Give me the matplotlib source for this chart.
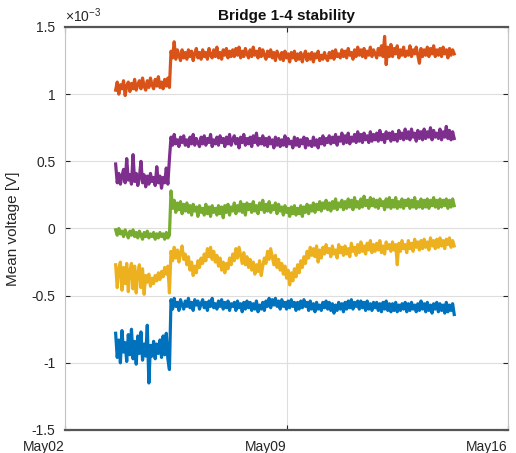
import numpy as np
import matplotlib
matplotlib.use('Agg')
import matplotlib.pyplot as plt
import matplotlib.dates as mdates
import matplotlib.transforms as mtransforms

matplotlib.rcParams['font.family'] = ['Liberation Sans', 'DejaVu Sans']
matplotlib.rcParams['axes.unicode_minus'] = False
matplotlib.rcParams['mathtext.default'] = 'regular'

# readings every 72 min; the logger was restarted on May 5
t_before = np.datetime64('2017-05-03T14:24')
t_after = np.datetime64('2017-05-05T08:24')
t_step_min = 72

# mean voltage in units of 1e-3 V
b1_before = [  # blue
    -0.78, -0.96, -0.83, -1.00, -0.76, -0.92, -0.85, -0.99, -0.79, -0.94,
    -0.75, -0.97, -0.84, -1.01, -0.80, -0.93, -0.77, -0.98, -0.86, -0.95,
    -0.72, -1.15, -0.87, -0.95, -0.84, -0.97, -0.86, -0.93, -0.83, -0.96,
    -0.80, -0.94, -0.78, -0.97, -1.05,
]
b1_after = [
    -0.53, -0.60, -0.52, -0.58, -0.55, -0.61, -0.53, -0.57, -0.60, -0.54,
    -0.58, -0.52, -0.59, -0.55, -0.61, -0.53, -0.57, -0.54, -0.60, -0.56,
    -0.53, -0.59, -0.55, -0.61, -0.54, -0.58, -0.52, -0.59, -0.56, -0.60,
    -0.54, -0.58, -0.53, -0.60, -0.55, -0.59, -0.54, -0.61, -0.56, -0.58,
    -0.55, -0.61, -0.54, -0.59, -0.56, -0.62, -0.55, -0.60, -0.54, -0.59,
    -0.55, -0.61, -0.56, -0.60, -0.54, -0.62, -0.57, -0.60, -0.55, -0.61,
    -0.54, -0.58, -0.52, -0.59, -0.53, -0.57, -0.52, -0.58, -0.54, -0.60,
    -0.53, -0.58, -0.55, -0.60, -0.54, -0.59, -0.53, -0.58, -0.55, -0.61,
    -0.55, -0.60, -0.54, -0.59, -0.53, -0.58, -0.55, -0.61, -0.54, -0.60,
    -0.56, -0.62, -0.55, -0.60, -0.57, -0.61, -0.55, -0.59, -0.54, -0.60,
    -0.55, -0.61, -0.56, -0.63, -0.57, -0.61, -0.55, -0.60, -0.56, -0.62,
    -0.55, -0.60, -0.54, -0.59, -0.53, -0.60, -0.55, -0.58, -0.54, -0.60,
    -0.54, -0.59, -0.55, -0.61, -0.54, -0.60, -0.56, -0.61, -0.55, -0.59,
    -0.55, -0.61, -0.56, -0.62, -0.55, -0.60, -0.54, -0.61, -0.56, -0.62,
    -0.56, -0.61, -0.55, -0.62, -0.57, -0.61, -0.56, -0.60, -0.55, -0.62,
    -0.56, -0.61, -0.55, -0.60, -0.57, -0.62, -0.56, -0.61, -0.54, -0.60,
    -0.56, -0.62, -0.55, -0.61, -0.57, -0.63, -0.56, -0.60, -0.55, -0.62,
    -0.56, -0.61, -0.57, -0.63, -0.55, -0.62, -0.57, -0.61, -0.56, -0.64,
]
b2_before = [  # orange
    1.03, 1.09, 1.00, 1.07, 1.04, 1.10, 0.99, 1.06, 1.09, 1.02,
    1.08, 1.04, 1.11, 1.03, 1.07, 1.10, 1.04, 1.12, 1.06, 1.03,
    1.10, 1.05, 1.12, 1.07, 1.04, 1.11, 1.06, 1.13, 1.05, 1.09,
    1.04, 1.11, 1.06, 1.12, 1.05,
]
b2_after = [
    1.32, 1.27, 1.39, 1.26, 1.33, 1.29, 1.25, 1.33, 1.27, 1.31,
    1.26, 1.33, 1.28, 1.32, 1.25, 1.30, 1.34, 1.27, 1.31, 1.26,
    1.33, 1.28, 1.31, 1.26, 1.34, 1.29, 1.27, 1.33, 1.28, 1.35,
    1.27, 1.31, 1.26, 1.33, 1.29, 1.34, 1.27, 1.32, 1.28, 1.33,
    1.28, 1.34, 1.29, 1.35, 1.27, 1.32, 1.28, 1.34, 1.30, 1.27,
    1.33, 1.28, 1.35, 1.29, 1.32, 1.27, 1.34, 1.28, 1.33, 1.29,
    1.26, 1.32, 1.28, 1.33, 1.27, 1.31, 1.25, 1.32, 1.29, 1.26,
    1.31, 1.25, 1.32, 1.27, 1.30, 1.24, 1.31, 1.27, 1.32, 1.25,
    1.30, 1.26, 1.31, 1.24, 1.29, 1.32, 1.25, 1.30, 1.26, 1.31,
    1.24, 1.30, 1.27, 1.32, 1.25, 1.29, 1.26, 1.31, 1.27, 1.25,
    1.31, 1.27, 1.32, 1.26, 1.33, 1.28, 1.30, 1.27, 1.33, 1.28,
    1.32, 1.27, 1.34, 1.29, 1.31, 1.26, 1.33, 1.28, 1.35, 1.29,
    1.33, 1.28, 1.34, 1.27, 1.32, 1.29, 1.35, 1.28, 1.33, 1.30,
    1.27, 1.34, 1.29, 1.36, 1.28, 1.43, 1.22, 1.35, 1.28, 1.37,
    1.28, 1.34, 1.30, 1.36, 1.27, 1.33, 1.29, 1.35, 1.28, 1.32,
    1.29, 1.36, 1.28, 1.33, 1.30, 1.35, 1.29, 1.23, 1.34, 1.28,
    1.33, 1.29, 1.35, 1.28, 1.34, 1.30, 1.36, 1.28, 1.33, 1.29,
    1.34, 1.28, 1.35, 1.30, 1.33, 1.27, 1.34, 1.29, 1.33, 1.30,
]
b3_before = [  # yellow
    -0.27, -0.44, -0.30, -0.25, -0.46, -0.29, -0.41, -0.26, -0.47, -0.31,
    -0.26, -0.45, -0.28, -0.48, -0.33, -0.27, -0.44, -0.30, -0.49, -0.35,
    -0.40, -0.34, -0.43, -0.37, -0.41, -0.35, -0.39, -0.33, -0.38, -0.32,
    -0.36, -0.29, -0.34, -0.28, -0.48,
]
b3_after = [
    -0.17, -0.24, -0.14, -0.22, -0.16, -0.25, -0.18, -0.13, -0.23, -0.19,
    -0.27, -0.21, -0.31, -0.25, -0.35, -0.28, -0.33, -0.24, -0.29, -0.22,
    -0.26, -0.19, -0.24, -0.15, -0.21, -0.14, -0.23, -0.17, -0.25, -0.20,
    -0.28, -0.22, -0.31, -0.25, -0.33, -0.26, -0.30, -0.22, -0.27, -0.19,
    -0.24, -0.15, -0.22, -0.14, -0.20, -0.26, -0.18, -0.27, -0.21, -0.29,
    -0.23, -0.31, -0.25, -0.34, -0.27, -0.32, -0.24, -0.35, -0.28, -0.22,
    -0.26, -0.17, -0.23, -0.15, -0.21, -0.27, -0.20, -0.29, -0.23, -0.31,
    -0.26, -0.34, -0.28, -0.37, -0.31, -0.42, -0.33, -0.39, -0.30, -0.36,
    -0.27, -0.33, -0.24, -0.29, -0.21, -0.26, -0.17, -0.22, -0.14, -0.20,
    -0.15, -0.21, -0.13, -0.25, -0.16, -0.22, -0.14, -0.19, -0.12, -0.18,
    -0.15, -0.21, -0.13, -0.19, -0.16, -0.22, -0.12, -0.18, -0.14, -0.20,
    -0.13, -0.19, -0.15, -0.21, -0.11, -0.17, -0.14, -0.20, -0.12, -0.18,
    -0.10, -0.17, -0.13, -0.19, -0.11, -0.16, -0.09, -0.18, -0.12, -0.17,
    -0.11, -0.16, -0.09, -0.18, -0.13, -0.19, -0.10, -0.15, -0.12, -0.17,
    -0.10, -0.16, -0.12, -0.27, -0.11, -0.17, -0.09, -0.15, -0.12, -0.18,
    -0.09, -0.15, -0.11, -0.17, -0.08, -0.14, -0.10, -0.16, -0.09, -0.15,
    -0.08, -0.14, -0.10, -0.16, -0.07, -0.13, -0.09, -0.15, -0.08, -0.14,
    -0.07, -0.13, -0.09, -0.15, -0.08, -0.12, -0.07, -0.14, -0.09, -0.13,
]
b4_before = [  # purple
    0.48, 0.34, 0.41, 0.33, 0.39, 0.44, 0.34, 0.52, 0.36, 0.40,
    0.33, 0.55, 0.35, 0.41, 0.32, 0.38, 0.50, 0.34, 0.40, 0.31,
    0.39, 0.33, 0.41, 0.35, 0.38, 0.32, 0.46, 0.34, 0.39, 0.30,
    0.38, 0.34, 0.45, 0.33, 0.52,
]
b4_after = [
    0.68, 0.62, 0.70, 0.63, 0.66, 0.61, 0.68, 0.64, 0.69, 0.62,
    0.66, 0.61, 0.68, 0.63, 0.70, 0.62, 0.67, 0.64, 0.61, 0.68,
    0.63, 0.69, 0.62, 0.67, 0.64, 0.70, 0.61, 0.66, 0.63, 0.68,
    0.62, 0.69, 0.64, 0.67, 0.61, 0.68, 0.63, 0.70, 0.62, 0.66,
    0.69, 0.63, 0.67, 0.60, 0.68, 0.64, 0.70, 0.62, 0.67, 0.63,
    0.68, 0.61, 0.69, 0.64, 0.71, 0.62, 0.67, 0.63, 0.69, 0.62,
    0.67, 0.61, 0.68, 0.63, 0.66, 0.60, 0.68, 0.62, 0.67, 0.61,
    0.66, 0.62, 0.69, 0.61, 0.67, 0.63, 0.65, 0.60, 0.68, 0.62,
    0.67, 0.61, 0.66, 0.63, 0.68, 0.60, 0.67, 0.62, 0.65, 0.61,
    0.68, 0.62, 0.66, 0.60, 0.67, 0.63, 0.69, 0.62, 0.67, 0.64,
    0.69, 0.63, 0.68, 0.64, 0.70, 0.62, 0.68, 0.65, 0.71, 0.63,
    0.69, 0.64, 0.71, 0.63, 0.68, 0.65, 0.70, 0.64, 0.72, 0.65,
    0.70, 0.64, 0.71, 0.66, 0.69, 0.64, 0.72, 0.65, 0.70, 0.66,
    0.71, 0.65, 0.73, 0.66, 0.70, 0.64, 0.72, 0.67, 0.71, 0.65,
    0.72, 0.66, 0.70, 0.65, 0.73, 0.67, 0.71, 0.66, 0.74, 0.67,
    0.72, 0.66, 0.74, 0.68, 0.71, 0.65, 0.73, 0.67, 0.72, 0.66,
    0.74, 0.67, 0.72, 0.68, 0.75, 0.66, 0.73, 0.68, 0.71, 0.67,
    0.74, 0.66, 0.72, 0.68, 0.76, 0.67, 0.73, 0.66, 0.72, 0.67,
]
b5_before = [  # green
    -0.01, -0.05, 0.00, -0.04, -0.02, -0.06, -0.01, -0.04, -0.07, -0.02,
    -0.05, -0.01, -0.06, -0.03, -0.07, -0.02, -0.05, -0.08, -0.03, -0.06,
    -0.02, -0.07, -0.04, -0.06, -0.03, -0.08, -0.04, -0.07, -0.03, -0.06,
    -0.04, -0.08, -0.03, -0.07, -0.05,
]
b5_after = [
    0.28, 0.15, 0.21, 0.12, 0.19, 0.14, 0.20, 0.11, 0.18, 0.13,
    0.19, 0.12, 0.17, 0.10, 0.18, 0.13, 0.16, 0.09, 0.17, 0.12,
    0.15, 0.10, 0.18, 0.11, 0.16, 0.09, 0.17, 0.12, 0.15, 0.10,
    0.17, 0.11, 0.16, 0.08, 0.17, 0.12, 0.18, 0.10, 0.16, 0.13,
    0.19, 0.11, 0.17, 0.13, 0.20, 0.12, 0.18, 0.10, 0.19, 0.14,
    0.18, 0.12, 0.20, 0.13, 0.17, 0.11, 0.19, 0.14, 0.21, 0.12,
    0.18, 0.13, 0.20, 0.12, 0.17, 0.14, 0.19, 0.11, 0.18, 0.13,
    0.16, 0.10, 0.17, 0.12, 0.15, 0.09, 0.16, 0.11, 0.17, 0.10,
    0.15, 0.11, 0.17, 0.09, 0.16, 0.12, 0.18, 0.11, 0.17, 0.13,
    0.19, 0.12, 0.18, 0.14, 0.20, 0.13, 0.19, 0.15, 0.21, 0.14,
    0.19, 0.13, 0.20, 0.15, 0.22, 0.14, 0.19, 0.16, 0.21, 0.14,
    0.20, 0.15, 0.22, 0.16, 0.21, 0.14, 0.23, 0.16, 0.20, 0.15,
    0.22, 0.16, 0.24, 0.17, 0.21, 0.15, 0.23, 0.17, 0.22, 0.16,
    0.21, 0.15, 0.22, 0.17, 0.20, 0.14, 0.22, 0.16, 0.23, 0.15,
    0.21, 0.16, 0.23, 0.15, 0.20, 0.16, 0.22, 0.15, 0.21, 0.17,
    0.22, 0.15, 0.21, 0.16, 0.23, 0.15, 0.20, 0.16, 0.22, 0.15,
    0.21, 0.16, 0.22, 0.15, 0.21, 0.17, 0.23, 0.16, 0.21, 0.15,
    0.22, 0.16, 0.21, 0.17, 0.22, 0.15, 0.21, 0.16, 0.22, 0.17,
]

series = [(b1_before, b1_after), (b2_before, b2_after), (b3_before, b3_after),
          (b4_before, b4_after), (b5_before, b5_after)]
colors = ['#0072BD', '#D95319', '#EDB120', '#7E2F8E', '#77AC30']

x_ticks = ['2017-05-02', '2017-05-09', '2017-05-16']
y_ticks = [-1.5, -1, -0.5, 0, 0.5, 1, 1.5]


def sample_times(t0, n):
    t = t0 + np.arange(n) * np.timedelta64(t_step_min, 'm')
    return list(t.astype('datetime64[m]').astype(object))


fig = plt.figure(figsize=(5.16, 4.53), dpi=100)
ax = fig.add_axes([0.126, 0.0508, 0.8585, 0.8896])

for (pre, post), col in zip(series, colors):
    t = sample_times(t_before, len(pre)) + sample_times(t_after, len(post))
    ax.plot(t, pre + post, color=col, lw=2.3, solid_joinstyle='round')

xt = [np.datetime64(d).astype(object) for d in x_ticks]
ax.set_xlim(xt[0], xt[-1])
ax.set_xticks(xt)
ax.xaxis.set_major_formatter(mdates.DateFormatter('%b%d'))
ax.set_ylim(-1.5, 1.5)
ax.set_yticks(y_ticks)
ax.set_yticklabels(['%g' % v for v in y_ticks])

ax.grid(True, color='#dedede', lw=0.8)
ax.set_axisbelow(True)
ax.tick_params(direction='in', length=3.5, width=0.8, colors='#262626',
               labelsize=10, top=True, right=True, pad=7)
ax.tick_params(axis='x', pad=7.5)
for side in ['left', 'right']:
    ax.spines[side].set_color('#c4c4c4')
    ax.spines[side].set_linewidth(0.8)
for side in ['top', 'bottom']:
    ax.spines[side].set_color('#555555')
    ax.spines[side].set_linewidth(1.6)

# x labels sit a bit left of their ticks in the original
shift = mtransforms.ScaledTranslation(-21 / 100, 0, fig.dpi_scale_trans)
for lab in ax.get_xticklabels():
    lab.set_transform(lab.get_transform() + shift)

ax.set_title('Bridge 1-4 stability', fontsize=11, fontweight='bold', color='#111111', pad=5)
ax.set_ylabel('Mean voltage [V]', fontsize=11, color='#262626', labelpad=8)
ax.text(0.0, 1.004, r'$\times10^{-3}$', transform=ax.transAxes, fontsize=10,
        color='#262626', ha='left', va='bottom')

fig.savefig('out.png', dpi=100)
